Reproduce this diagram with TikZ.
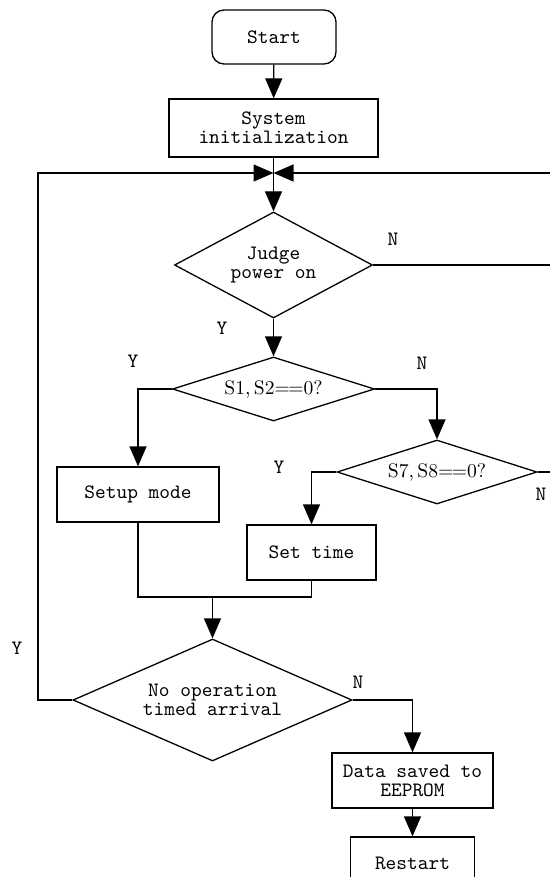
\documentclass[tikz,border=0pt]{standalone}
\usetikzlibrary{shapes.geometric,arrows.meta}
\begin{document}
\begin{tikzpicture}[x=0.5pt,y=-0.5pt,
  line width=0.65pt,
  txt/.style={font=\ttfamily\fontsize{10.2}{9.6}\selectfont, align=center},
  box/.style={txt, draw, rectangle, inner sep=0pt},
  rbox/.style={box, rounded corners=6pt},
  dec/.style={txt, draw, diamond, inner sep=0pt},
  lbl/.style={font=\ttfamily\fontsize{10.2}{10}\selectfont, inner sep=0pt},
  arr/.style={-{Triangle[length=10pt,width=8.5pt]}}
]
\useasboundingbox (0,0) rectangle (550,877);
\fill[white] (0,0) rectangle (550,877);
\begin{scope}
\clip (0,0) rectangle (550,877);
\node[rbox, minimum width=62pt, minimum height=27pt] (start) at (274,37) {Start};
\node[box, minimum width=104.5pt, minimum height=29pt] (init) at (273.5,128) {System\\initialization};
\coordinate (J) at (273.5,173);
\node[dec, minimum width=99pt, minimum height=53pt, aspect=1.87] (judge) at (273.5,265) {Judge\\power on};
\node[dec, font=\rmfamily\fontsize{9.8}{10}\selectfont, minimum width=101pt, minimum height=32pt, aspect=3.16] (s1) at (273.5,389) {S1,\,S2=\kern-0.8pt=0?};
\node[dec, font=\rmfamily\fontsize{9.8}{10}\selectfont, minimum width=100pt, minimum height=32pt, aspect=3.12] (s7) at (437,472) {S7,\,S8=\kern-0.8pt=0?};
\node[box, minimum width=81pt, minimum height=27.5pt] (setup) at (138,494.5) {Setup mode};
\node[box, minimum width=64.5pt, minimum height=27.5pt] (settime) at (311.5,552.5) {Set time};
\coordinate (M) at (212.5,597);
\node[dec, minimum width=139.5pt, minimum height=61pt, aspect=2.29] (noop) at (212.5,700) {No operation\\timed arrival};
\node[box, minimum width=80.5pt, minimum height=27.5pt] (data) at (412.5,780.5) {Data saved to\\EEPROM};
\node[box, minimum width=62pt, minimum height=26pt] (restart) at (412.5,863) {Restart};

\node[lbl] (nJ) at (393,239) {N};
\node[lbl] (yJ) at (222,328) {Y};
\node[lbl] (y1) at (133,361) {Y};
\node[lbl] (n1) at (422,363) {N};
\node[lbl] (y7) at (279,467) {Y};
\node[lbl] (n7) at (541,494) {N};
\node[lbl] (yN) at (17,648) {Y};
\node[lbl] (nN) at (358,682) {N};

\coordinate (L) at (38,700);
\coordinate (R) at (565,265);
\coordinate (R7) at (565,472);

\draw[arr] (start) -- (init);
\draw (init) -- (J);
\draw[arr] (J) -- (judge.north);
\draw[arr] (noop.west) -- (L) |- (J);
\draw[arr] (judge.east) -- (R) |- (J);
\draw (s7.east) -- (R7) -- (R);
\draw[arr] (judge.south) -- (s1.north);
\draw[arr] (s1.west) -| (setup.north);
\draw[arr] (s1.east) -| (s7.north);
\draw[arr] (s7.west) -| (settime.north);
\draw (setup.south) |- (M);
\draw (settime.south) |- (M);
\draw[arr] (M) -- (noop.north);
\draw[arr] (noop.east) -| (data.north);
\draw[arr] (data) -- (restart);
\end{scope}
\end{tikzpicture}
\end{document}
